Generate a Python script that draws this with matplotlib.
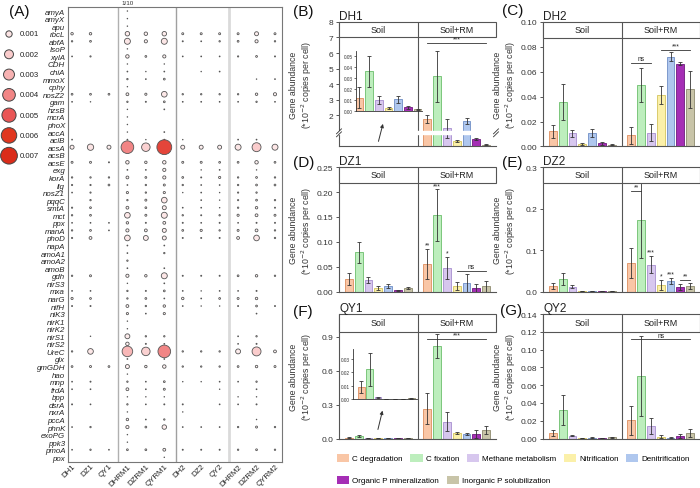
import numpy as np
import matplotlib
matplotlib.use('Agg')
import matplotlib.pyplot as plt
import matplotlib.transforms as mtransforms
from matplotlib.colors import LinearSegmentedColormap, Normalize
from matplotlib.patches import Rectangle, Patch
from matplotlib.ticker import FormatStrFormatter

plt.rcParams['font.family'] = ['Liberation Sans', 'DejaVu Sans']

######################## (A) bubble data ########################
samples = ['DH1', 'DZ1', 'QY1', 'DHRM1', 'DZRM1', 'QYRM1',
           'DH2', 'DZ2', 'QY2', 'DHRM2', 'DZRM2', 'QYRM2']

genes = ['amyA', 'amyX', 'apu', 'rbcL', 'abfA', 'IsoP', 'xylA', 'CDH', 'chiA', 'mmoX',
         'cphy', 'nosZ2', 'gam', 'hzsB', 'mcrA', 'phoX', 'accA', 'aclB', 'acsA', 'acsB',
         'acsE', 'exg', 'korA', 'lig', 'nosZ1', 'pqqC', 'smtA', 'mct', 'ppx', 'manA',
         'phoD', 'napA', 'amoA1', 'amoA2', 'amoB', 'gdh', 'nirS3', 'mxa', 'narG', 'nifH',
         'niK3', 'nirK1', 'nirK2', 'nirS1', 'nirS2', 'UreC', 'glx', 'gmGDH', 'hao', 'mnp',
         'frdA', 'bpp', 'dsrA', 'nxrA', 'pccA', 'phnK', 'exoPG', 'ppk3', 'pmoA', 'pox']

# relative abundance x 1e-4 (RM1 columns already divided by 10)
abund_e4 = [
    [0, 0, 0, 0.1, 0, 0, 0, 0, 0, 0, 0, 0],          # amyA
    [0, 0, 0, 0.1, 0, 0, 0, 0, 0, 0, 0, 0],          # amyX
    [0, 0, 0, 0.1, 0, 0, 0, 0, 0, 0, 0, 0],          # apu
    [1.5, 1.5, 0, 5, 3, 5, 1, 1, 1, 1, 4, 1],        # rbcL
    [0.5, 0.8, 0, 9, 2.5, 9, 0.3, 0.2, 0.5, 0.8, 2.5, 0.5],  # abfA
    [0, 0, 0, 0.1, 0, 0, 0, 0, 0, 0, 0, 0],          # IsoP
    [0.2, 0.4, 0, 3, 0.8, 2.5, 0.2, 0.2, 0.2, 0.4, 0.8, 0.3],  # xylA
    [0, 0, 0, 0.1, 0, 0.1, 0, 0, 0, 0, 0, 0],        # CDH
    [0, 0, 0, 0.2, 0.1, 0.2, 0, 0.1, 0.2, 0, 0, 0],  # chiA
    [0, 0, 0, 0.5, 0.2, 0.8, 0, 0, 0, 0, 0.1, 0.2],  # mmoX
    [0, 0, 0, 0.1, 0, 0, 0, 0, 0, 0, 0, 0],          # cphy
    [0.8, 0.8, 0.8, 2, 1.2, 8, 0.5, 0.5, 0.5, 0.5, 1.5, 2.5],  # nosZ2
    [0.2, 0.1, 0, 0.5, 0.3, 0.8, 0.2, 0.2, 0.2, 0.2, 0.5, 0.2],  # gam
    [0, 0, 0, 0.1, 0, 0.2, 0, 0, 0, 0, 0, 0],        # hzsB
    [0, 0, 0, 0.1, 0, 0, 0, 0, 0, 0, 0, 0],          # mcrA
    [0, 0, 0, 0.1, 0, 0, 0, 0, 0, 0, 0, 0],          # phoX
    [0, 0, 0, 0.1, 0, 0.2, 0, 0, 0, 0, 0, 0],        # accA
    [0.2, 0, 0, 0.2, 0.1, 0.2, 0.1, 0, 0, 0.2, 0.2, 0],  # aclB
    [4, 10, 4, 40, 18, 55, 4, 4, 4, 9, 20, 9],       # acsA
    [0, 0, 0, 0, 0, 0, 0, 0, 0, 0, 0, 0],            # acsB
    [1, 1, 0.3, 3, 1.5, 3, 1, 1, 0.8, 0.8, 3, 0.8],  # acsE
    [0, 0, 0, 0.2, 0.2, 2.5, 0, 0.1, 0.2, 0, 0.1, 0],  # exg
    [0.5, 0.5, 0.5, 2, 0.8, 2.5, 0.8, 0.3, 1.2, 0.5, 0.8, 0.5],  # korA
    [0.4, 0.4, 0.8, 0.2, 0.5, 1, 0.5, 0.2, 0.2, 0.5, 0.8, 0.8],  # lig
    [0.2, 0.4, 0, 1.2, 0.5, 1.2, 0.1, 0.2, 0.1, 0.4, 0.5, 0],  # nosZ1
    [0, 0.5, 0, 0.5, 1, 8, 0, 0.2, 0.1, 0.4, 0.8, 0.5],  # pqqC
    [0.4, 0.8, 0, 2, 0.8, 4, 0.2, 0.2, 0.1, 0.5, 1.5, 0.3],  # smtA
    [0.5, 0.8, 0, 8, 1, 9, 0.5, 0.3, 0.5, 1.2, 2, 1],  # mct
    [0.2, 0.2, 0.2, 1.5, 0.3, 2, 0.3, 0.2, 0.3, 0.2, 0.3, 0.3],  # ppx
    [0.5, 0.8, 0.2, 2.5, 2, 4, 0.8, 1.2, 0.5, 1, 2, 0.5],  # manA
    [0.4, 2, 0, 8, 6, 4, 0.3, 0.3, 0.3, 2, 8, 0.5],  # phoD
    [0, 0, 0, 0.2, 0, 0.2, 0, 0, 0, 0, 0, 0],        # napA
    [0, 0, 0, 0.2, 0, 0.5, 0, 0, 0, 0, 0, 0],        # amoA1
    [0, 0, 0, 0.5, 0, 0, 0, 0, 0, 0, 0, 0],          # amoA2
    [0, 0, 0, 0.2, 0, 0.2, 0, 0, 0, 0, 0, 0],        # amoB
    [0.5, 1, 0, 2.5, 1.5, 9, 0.3, 0.3, 0.3, 0.8, 1.5, 0.5],  # gdh
    [0, 0, 0, 0.1, 0, 0.2, 0, 0, 0, 0, 0, 0],        # nirS3
    [0.2, 0.2, 0, 0.5, 0.3, 0.8, 0.2, 0.1, 0.2, 0.2, 0.3, 0],  # mxa
    [1.2, 0.8, 0, 0.5, 0.8, 0.2, 1.5, 0.2, 0.8, 1, 1.5, 0],  # narG
    [0.3, 0.3, 0, 2, 0.5, 1.5, 0.2, 0.1, 0.1, 0.3, 0.8, 0.3],  # nifH
    [0, 0, 0, 1.2, 0.2, 1.2, 0, 0, 0, 0, 0.2, 0],    # niK3
    [0, 0, 0, 0.1, 0, 0, 0, 0, 0, 0, 0, 0],          # nirK1
    [0, 0, 0, 0.1, 0, 0, 0, 0, 0, 0, 0, 0],          # nirK2
    [0, 0.1, 0, 6, 0.5, 0.5, 0, 0, 0, 0.2, 0.5, 0],  # nirS1
    [0, 0, 0, 3, 0.3, 0.2, 0, 0, 0, 0.2, 0.3, 0],    # nirS2
    [0.5, 8, 0, 28, 18, 40, 0.5, 0.5, 0.5, 6, 20, 2],  # UreC
    [0, 0, 0, 0.2, 0, 0.2, 0, 0, 0, 0, 0, 0],        # glx
    [0.8, 1, 0.8, 4, 1.5, 3, 0.5, 0.5, 0.5, 0.8, 1.5, 1],  # gmGDH
    [0, 0, 0, 0.1, 0, 0, 0, 0, 0, 0, 0, 0],          # hao
    [0.2, 0.3, 0, 0.5, 0.2, 0.8, 0.1, 0.1, 0.2, 0.2, 0.5, 0],  # mnp
    [0.2, 0.2, 0, 2, 0.2, 1, 0, 0, 0.1, 0, 0.2, 0],  # frdA
    [0, 0, 0, 0.1, 0.1, 0.1, 0, 0, 0, 0.1, 0.1, 0],  # bpp
    [0.3, 0.2, 0, 0.5, 0.2, 0.3, 0.3, 0, 0.2, 0.2, 0.3, 0],  # dsrA
    [0, 0, 0, 0.1, 0, 0, 0.1, 0, 0, 0, 0, 0],        # nxrA
    [0, 0, 0, 1.5, 0.2, 0.5, 0, 0, 0, 0, 0.1, 0],    # pccA
    [0.2, 0.5, 0, 2.5, 0.8, 5, 0.2, 0.2, 0.2, 0.5, 1, 0.5],  # phnK
    [0, 0, 0, 0.1, 0, 0, 0, 0, 0, 0, 0, 0],          # exoPG
    [0, 0, 0, 0.1, 0, 0, 0, 0, 0, 0, 0, 0],          # ppk3
    [0.2, 0.5, 0.2, 0.8, 0.8, 2, 0.3, 0.3, 0.3, 0.5, 0.8, 0.5],  # pmoA
    [0, 0, 0, 0, 0, 0.1, 0, 0, 0, 0, 0, 0],          # pox
]

size_legend_vals = [0.001, 0.002, 0.003, 0.004, 0.005, 0.006, 0.007]

######################## (B)-(G) bar data ########################
categories = ['C degradation', 'C fixation', 'Methane metabolism', 'Nitrification',
              'Denitrification', 'Organic P mineralization', 'Inorganic P solubilization']
fills = ['#F9C6A6', '#BDEEBD', '#D7C7EE', '#FBF0A9', '#AFC7EE', '#A52EB5', '#C8C4A8']
edges = ['#DE8E5E', '#6CBE6C', '#A68ECF', '#D4C45C', '#6E8EC6', '#6E1A7E', '#8E8A6E']

# DH1
dh1_soil = [0.012, 0.036, 0.0098, 0.0025, 0.0107, 0.003, 0.0015]
dh1_soil_sd = [0.0097, 0.0145, 0.0035, 0.001, 0.0032, 0.001, 0.0004]
dh1_rm = [1.78, 4.5, 1.17, 0.34, 1.65, 0.49, 0.12]
dh1_rm_sd = [0.25, 1.65, 0.62, 0.05, 0.2, 0.05, 0.02]
# DH2
dh2_soil = [0.0121, 0.036, 0.0105, 0.002, 0.0108, 0.0025, 0.0013]
dh2_soil_sd = [0.005, 0.0144, 0.0027, 0.001, 0.003, 0.001, 0.0003]
dh2_rm = [0.0089, 0.049, 0.011, 0.041, 0.072, 0.0663, 0.0458]
dh2_rm_sd = [0.0067, 0.0137, 0.0067, 0.0072, 0.0035, 0.0013, 0.015]
# DZ1
dz1_soil = [0.0256, 0.0788, 0.0236, 0.0075, 0.011, 0.003, 0.007]
dz1_soil_sd = [0.0128, 0.022, 0.0068, 0.0035, 0.004, 0.0008, 0.002]
dz1_rm = [0.0559, 0.1536, 0.0478, 0.011, 0.017, 0.008, 0.011]
dz1_rm_sd = [0.0297, 0.052, 0.022, 0.008, 0.018, 0.008, 0.011]
# DZ2
dz2_soil = [0.0137, 0.0307, 0.012, 0.002, 0.0012, 0.001, 0.002]
dz2_soil_sd = [0.008, 0.0153, 0.004, 0.0005, 0.0003, 0.0003, 0.0005]
dz2_rm = [0.0695, 0.172, 0.0647, 0.016, 0.026, 0.012, 0.013]
dz2_rm_sd = [0.0365, 0.091, 0.0206, 0.012, 0.007, 0.007, 0.007]
# QY1
qy1_soil = [0.0088, 0.0223, 0.0012, 0.0001, 0.0001, 0.0001, 0.0004]
qy1_soil_sd = [0.0044, 0.0125, 0.0004, 0.00005, 0.00005, 0.00005, 0.0001]
qy1_rm = [0.261, 0.817, 0.148, 0.052, 0.04, 0.042, 0.072]
qy1_rm_sd = [0.137, 0.104, 0.082, 0.008, 0.005, 0.035, 0.035]
# QY2
qy2_soil = [0.006, 0.0319, 0.003, 0.0003, 0.001, 0.0005, 0.0015]
qy2_soil_sd = [0.003, 0.0169, 0.0007, 0.0001, 0.0002, 0.0002, 0.0004]
qy2_rm = [0.0206, 0.0705, 0.0135, 0.002, 0.001, 0.0025, 0.0065]
qy2_rm_sd = [0.0162, 0.0453, 0.009, 0.0018, 0.0005, 0.002, 0.0045]

# significance: bracket lines (x1, x2, y, label) and single marks (bar index in RM group, label)
dh1_lines = [(9, 15, 6.67, '***')]
dh2_lines = [(9, 11, 0.0671, 'ns'), (12, 15, 0.0774, '***')]
dz1_lines = [(12, 15, 0.0424, 'ns')]
dz1_marks = [(0, '**'), (1, '***'), (2, '*')]
dz2_lines = [(9, 10, 0.243, '**'), (14, 15, 0.028, '**')]
dz2_marks = [(2, '***'), (3, '*'), (4, '***')]
qy1_lines = [(9, 15, 0.879, '***')]
qy2_lines = [(9, 15, 0.1118, 'ns')]

TXT = '#333333'
SPINE = '#555555'


def bubble_size(v):
    d_px = 200 * np.sqrt(v)
    return (d_px * 0.72) ** 2


def draw_bars(ax, x, means, sds, width=0.8):
    ax.bar(x, means, width=width, color=fills, edgecolor=edges, linewidth=0.6,
           yerr=sds, error_kw=dict(ecolor='#333333', elinewidth=0.6, capsize=1.3,
                                   capthick=0.6), zorder=2)


def bar_panel(ax, title, soil, soil_sd, rm, rm_sd, ylim, yticks, fmt, strip_frac,
              lines=(), marks=()):
    x_soil = np.arange(1, 8)
    x_rm = np.arange(9, 16)
    draw_bars(ax, x_soil, soil, soil_sd)
    draw_bars(ax, x_rm, rm, rm_sd)
    ax.set_xlim(0, 16)
    ax.set_ylim(*ylim)
    ax.set_yticks(yticks)
    ax.yaxis.set_major_formatter(FormatStrFormatter(fmt))
    ax.set_xticks([])
    for s in ['top', 'right']:
        ax.spines[s].set_visible(False)
    for s in ['left', 'bottom']:
        ax.spines[s].set_color(SPINE)
        ax.spines[s].set_linewidth(0.8)
    ax.tick_params(axis='y', labelsize=6.0, length=2.5, width=0.7, pad=1.5,
                   colors=SPINE, labelcolor=TXT)
    ax.set_title(title, loc='left', fontsize=8.5, pad=1.5, color='#222222')
    ax.set_ylabel('Gene abundance\n(*10$^{-2}$ copies per cell)', fontsize=6.3,
                  color=TXT, linespacing=1.1)
    ax.yaxis.set_label_coords(-0.16, 0.5)
    # facet strip
    ax.add_patch(Rectangle((0, 1 - strip_frac), 1, strip_frac, transform=ax.transAxes,
                           facecolor='white', edgecolor=SPINE, linewidth=0.8,
                           clip_on=False, zorder=3))
    ax.axvline(8, color=SPINE, linewidth=0.8, zorder=4)
    tr = mtransforms.blended_transform_factory(ax.transData, ax.transAxes)
    ax.text(4, 1 - strip_frac / 2, 'Soil', transform=tr, ha='center', va='center',
            fontsize=6.5, color='#222222', zorder=5)
    ax.text(12, 1 - strip_frac / 2, 'Soil+RM', transform=tr, ha='center', va='center',
            fontsize=6.5, color='#222222', zorder=5)
    for x1, x2, y, lab in lines:
        ax.plot([x1, x2], [y, y], color='#333333', linewidth=0.6, zorder=4)
        ax.annotate(lab, xy=((x1 + x2) / 2, y), xytext=(0, 0.3), textcoords='offset points',
                    ha='center', va='bottom', fontsize=4.8, color='#222222')
    for i, lab in marks:
        ax.annotate(lab, xy=(x_rm[i], rm[i] + rm_sd[i]), xytext=(0, 0.3),
                    textcoords='offset points', ha='center', va='bottom',
                    fontsize=4.8, color='#222222')


def inset_bars(fig, rect, means, sds, ylim, yticks, xlim):
    ia = fig.add_axes(rect)
    ia.patch.set_alpha(0)
    draw_bars(ia, np.arange(7), means, sds, width=0.8)
    ia.set_xlim(*xlim)
    ia.set_ylim(*ylim)
    ia.set_yticks(yticks)
    ia.yaxis.set_major_formatter(FormatStrFormatter('%.2f'))
    ia.set_xticks([])
    for s in ['top', 'right']:
        ia.spines[s].set_visible(False)
    for s in ['left', 'bottom']:
        ia.spines[s].set_color('#333333')
        ia.spines[s].set_linewidth(0.6)
    ia.tick_params(axis='y', labelsize=3.4, length=1.5, width=0.5, pad=1, colors='#333333')
    return ia


fig = plt.figure(figsize=(7, 4.89), dpi=100)

######################## (A) ########################
axA = fig.add_axes([68 / 700, 1 - 462.7 / 489, 214 / 700, 455.2 / 489])
vals = np.array(abund_e4) * 1e-4
yy, xx = np.nonzero(vals > 0)
v = vals[yy, xx]
cmap = LinearSegmentedColormap.from_list('pinkred', [
    (0, '#FFF6F6'), (1 / 7, '#FCE4E4'), (2 / 7, '#FACCCC'), (3 / 7, '#F7B2B2'),
    (4 / 7, '#F18585'), (5 / 7, '#E95656'), (6 / 7, '#E0361F'), (1, '#DA2C1A')])
norm = Normalize(0, 0.007)
axA.axvline(2.47, color='#B0B0B0', linewidth=1.0, zorder=1)
axA.axvline(5.62, color='#A0A0A0', linewidth=1.0, zorder=1)
axA.axvline(8.5, color='#DADADA', linewidth=2.0, zorder=1)
axA.scatter(xx, yy, s=bubble_size(v), c=v, cmap=cmap, norm=norm,
            edgecolors='#555555', linewidths=0.6, zorder=3)
axA.set_xlim(-0.22, 11.38)
axA.set_ylim(len(genes) - 0.42, -0.6)
axA.set_yticks(range(len(genes)))
axA.set_yticklabels(genes, fontstyle='italic', fontsize=5.7, color='#222222')
axA.set_xticks(range(len(samples)))
axA.set_xticklabels(samples, rotation=45, ha='right', va='top', rotation_mode='anchor',
                    fontsize=5.7, color='#222222')
offset = mtransforms.ScaledTranslation(5 / 72, 0, fig.dpi_scale_trans)
for lab in axA.get_xticklabels():
    lab.set_transform(lab.get_transform() + offset)
axA.tick_params(axis='y', length=0, pad=2)
axA.tick_params(axis='x', length=0, pad=0.5)
for s in axA.spines.values():
    s.set_color('#777777')
    s.set_linewidth(0.8)
axA.text(3, -0.75, '1/10', ha='center', va='bottom', fontsize=4.5, color=TXT)

# size legend
lax = fig.add_axes([0, 1 - 170 / 489, 66 / 700, 150 / 489])
lax.set_xlim(0, 66)
lax.set_ylim(170, 20)
lax.axis('off')
leg_y = np.linspace(35, 156.7, len(size_legend_vals))
lax.scatter([9] * len(size_legend_vals), leg_y, s=bubble_size(np.array(size_legend_vals)),
            c=size_legend_vals, cmap=cmap, norm=norm, edgecolors='#444444', linewidths=0.7,
            clip_on=False)
for yv, val in zip(leg_y, size_legend_vals):
    lax.text(19.5, yv, f'{val:.3f}', ha='left', va='center', fontsize=5.6, color='#222222')

######################## (B)-(G) ########################
col_x = [339 / 700, 543 / 700]
row_b = [1 - 147.4 / 489, 1 - 292.7 / 489, 1 - 439.5 / 489]
pw = 157 / 700
ph = 124.5 / 489

axB = fig.add_axes([col_x[0], row_b[0], pw, ph])
bar_panel(axB, 'DH1', dh1_soil, dh1_soil_sd, dh1_rm, dh1_rm_sd, (0, 8), range(2, 9), '%d',
          0.125, dh1_lines)
axB.axhspan(0.8, 0.96, color='white', zorder=4.5)
for xa in (0, 1):
    for off in (-0.012, 0.012):
        axB.plot([xa - 0.016, xa + 0.016], [0.109 + off - 0.02, 0.109 + off + 0.02],
                 transform=axB.transAxes, color='#333333', linewidth=0.6, clip_on=False,
                 zorder=6)
axB.annotate('', xy=(4.55, 1.62), xytext=(3.95, 0.15),
             arrowprops=dict(arrowstyle='-|>', color='#333333', lw=0.7,
                             mutation_scale=5), zorder=6)

axC = fig.add_axes([col_x[1], row_b[0], pw, ph])
bar_panel(axC, 'DH2', dh2_soil, dh2_soil_sd, dh2_rm, dh2_rm_sd, (0, 0.10),
          np.arange(0, 0.101, 0.02), '%.2f', 0.13, dh2_lines)

axD = fig.add_axes([col_x[0], row_b[1], pw, ph])
bar_panel(axD, 'DZ1', dz1_soil, dz1_soil_sd, dz1_rm, dz1_rm_sd, (0, 0.25),
          np.arange(0, 0.251, 0.05), '%.2f', 0.124, dz1_lines, dz1_marks)

axE = fig.add_axes([col_x[1], row_b[1], pw, ph])
bar_panel(axE, 'DZ2', dz2_soil, dz2_soil_sd, dz2_rm, dz2_rm_sd, (0, 0.3),
          np.arange(0, 0.301, 0.1), '%.1f', 0.123, dz2_lines, dz2_marks)

axF = fig.add_axes([col_x[0], row_b[2], pw, ph])
bar_panel(axF, 'QY1', qy1_soil, qy1_soil_sd, qy1_rm, qy1_rm_sd, (0, 1.1),
          np.arange(0, 0.91, 0.3), '%.1f', 0.142, qy1_lines)
axF.annotate('', xy=(4.5, 0.27), xytext=(3.9, 0.056),
             arrowprops=dict(arrowstyle='-|>', color='#333333', lw=0.7,
                             mutation_scale=5), zorder=6)

axG = fig.add_axes([col_x[1], row_b[2], pw, ph])
bar_panel(axG, 'QY2', qy2_soil, qy2_soil_sd, qy2_rm, qy2_rm_sd, (0, 0.14),
          np.arange(0, 0.141, 0.02), '%.2f', 0.143, qy2_lines)

# insets with the small Soil values
inset_bars(fig, [356 / 700, 1 - 111.7 / 489, 66 / 700, 60 / 489], dh1_soil, dh1_soil_sd,
           (0, 0.055), np.arange(0, 0.051, 0.01), (-0.35, 6.45))
inset_bars(fig, [353 / 700, 1 - 400 / 489, 64 / 700, 50 / 489], qy1_soil, qy1_soil_sd,
           (0, 0.0375), np.arange(0, 0.031, 0.01), (-1.0, 6.7))

# panel letters
for lab, (px, py) in zip(['(A)', '(B)', '(C)', '(D)', '(E)', '(F)', '(G)'],
                         [(9, 12), (293, 12), (502, 11), (293, 163), (502, 163),
                          (293, 312), (500, 311)]):
    fig.text(px / 700, 1 - py / 489, lab, ha='left', va='center', fontsize=11,
             color='#111111')

# category legend
handles = [Patch(facecolor=f, edgecolor='none', label=c) for f, c in zip(fills, categories)]
leg_kw = dict(frameon=False, fontsize=5.8, handlelength=1.5, handleheight=1.25,
              handletextpad=0.4, columnspacing=0.95, borderpad=0, borderaxespad=0,
              loc='center left')
fig.legend(handles=handles[:5], ncol=5, bbox_to_anchor=(337 / 700, 1 - 459 / 489), **leg_kw)
fig.legend(handles=handles[5:], ncol=2, bbox_to_anchor=(337 / 700, 1 - 481 / 489), **leg_kw)

fig.savefig('out.png', dpi=100)
